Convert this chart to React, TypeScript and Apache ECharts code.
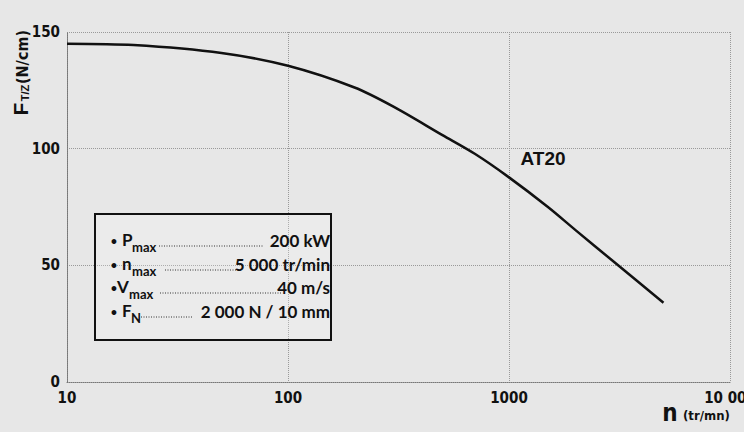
import React, { useEffect, useRef } from "react";
import * as echarts from "echarts";

const speeds = [10, 20, 50, 100, 200, 300, 500, 700, 1000, 1500, 2000, 3000, 5000];
const forces = [145, 144.4, 141, 135.5, 126.2, 118, 105.8, 97.8, 87.7, 75, 65.1, 51.3, 34];
const yTicks = [0, 50, 100, 150];
const xTicks = [10, 100, 1000, 10000];
const xTickLabels = ["10", "100", "1000", "10 000"];
const specSymbols = ["P", "n", "V", "F"];
const specSubs = ["max", "max", "max", "N"];
const specValues = ["200 kW", "5 000 tr/min", "40 m/s", "2 000 N / 10 mm"];
const curveName = "AT20";

const TICK_FONT = "'Liberation Sans Narrow', 'DejaVu Sans Condensed', 'Liberation Sans', sans-serif";
const BOX_FONT = "Lato, 'Open Sans', sans-serif";

export default function App() {
  const ref = useRef<HTMLDivElement>(null);
  useEffect(() => {
    if (!ref.current) return;
    const chart = echarts.init(ref.current, null, { renderer: "svg" });

    const rowsY = [240, 264, 287, 311];
    const symX = [122, 122, 117, 122];
    const subX = [132, 132, 129, 131];
    const dotStart = [159, 165, 160, 141];
    const dotEnd = [264, 236, 282, 192];

    const graphics: any[] = [
      {
        type: "rect",
        shape: { x: 95, y: 214, width: 236, height: 126 },
        style: { fill: "rgba(255,255,255,0.2)", stroke: "#111", lineWidth: 2 },
        z: 10,
      },
    ];
    specSymbols.forEach((s, i) => {
      const y = rowsY[i];
      graphics.push(
        { type: "text", x: 114, y, z: 11, style: { text: "•", font: `bold 11px ${BOX_FONT}`, fill: "#111", align: "center", verticalAlign: "middle" } },
        { type: "text", x: symX[i], y: y - 1, z: 11, style: { text: s, font: `bold 17px ${BOX_FONT}`, fill: "#111", align: "left", verticalAlign: "middle" } },
        { type: "text", x: subX[i], y: y + 7, z: 11, style: { text: specSubs[i], font: `bold 13px ${BOX_FONT}`, fill: "#111", align: "left", verticalAlign: "middle" } },
        { type: "line", z: 11, shape: { x1: dotStart[i], y1: y + 6, x2: dotEnd[i], y2: y + 6 }, style: { stroke: "#333", lineWidth: 1, lineDash: [1, 1.5] } },
        { type: "text", x: 330, y, z: 11, style: { text: specValues[i], font: `bold 17px ${BOX_FONT}`, fill: "#111", align: "right", verticalAlign: "middle" } }
      );
    });
    graphics.push(
      { type: "text", x: 20, y: 109, rotation: Math.PI / 2, style: { text: "F", font: `bold 21px 'Liberation Sans', sans-serif`, fill: "#111", align: "center", verticalAlign: "middle" } },
      { type: "text", x: 25, y: 93, rotation: Math.PI / 2, style: { text: "T/Z", font: `bold 11px 'Liberation Sans', sans-serif`, fill: "#111", align: "center", verticalAlign: "middle" } },
      { type: "text", x: 22, y: 57, rotation: Math.PI / 2, style: { text: "(N/cm)", font: `bold 16px ${TICK_FONT}`, fill: "#111", align: "center", verticalAlign: "middle" } },
      { type: "text", x: 670, y: 413, style: { text: "n", font: `bold 24px ${TICK_FONT}`, fill: "#111", align: "center", verticalAlign: "middle" } },
      { type: "text", x: 683, y: 415, style: { text: "(tr/mn)", font: `bold 13px ${TICK_FONT}`, fill: "#111", align: "left", verticalAlign: "middle" } },
      { type: "text", x: 543, y: 158, style: { text: curveName, font: `bold 19px 'Liberation Sans', sans-serif`, fill: "#111", align: "center", verticalAlign: "middle" } }
    );

    chart.setOption({
      animation: false,
      backgroundColor: "#e7e7e7",
      grid: { left: 67, right: 40, top: 32, bottom: 50, containLabel: false },
      xAxis: {
        type: "log",
        logBase: 10,
        min: xTicks[0],
        max: xTicks[xTicks.length - 1],
        axisLine: { show: true, lineStyle: { color: "#777", type: "dotted", width: 1 } },
        axisTick: { show: false },
        splitLine: { show: true, lineStyle: { color: "#999", type: "dotted", width: 1 } },
        axisLabel: {
          margin: 8,
          fontFamily: TICK_FONT,
          fontSize: 15,
          fontWeight: "bold",
          color: "#111",
          formatter: (v: number) => {
            const idx = xTicks.findIndex((t) => Math.abs(t - v) / t < 1e-6);
            return idx >= 0 ? xTickLabels[idx] : "";
          },
        },
      },
      yAxis: {
        type: "value",
        min: yTicks[0],
        max: yTicks[yTicks.length - 1],
        interval: 50,
        axisLine: { show: true, lineStyle: { color: "#777", type: "dotted", width: 1 } },
        axisTick: { show: false },
        splitLine: { show: true, lineStyle: { color: "#999", type: "dotted", width: 1 } },
        axisLabel: {
          margin: 7,
          fontFamily: TICK_FONT,
          fontSize: 15,
          fontWeight: "bold",
          color: "#111",
        },
      },
      series: [
        {
          name: curveName,
          type: "line",
          smooth: 0.3,
          showSymbol: false,
          data: speeds.map((s, i) => [s, forces[i]]),
          lineStyle: { color: "#111", width: 2.5 },
        },
      ],
      graphic: graphics,
    });
    return () => chart.dispose();
  }, []);
  return (
    <div style={{ position: "fixed", left: 0, top: 0, width: 744, height: 432, overflow: "hidden" }}>
      <div ref={ref} style={{ width: 770, height: 432 }} />
    </div>
  );
}
